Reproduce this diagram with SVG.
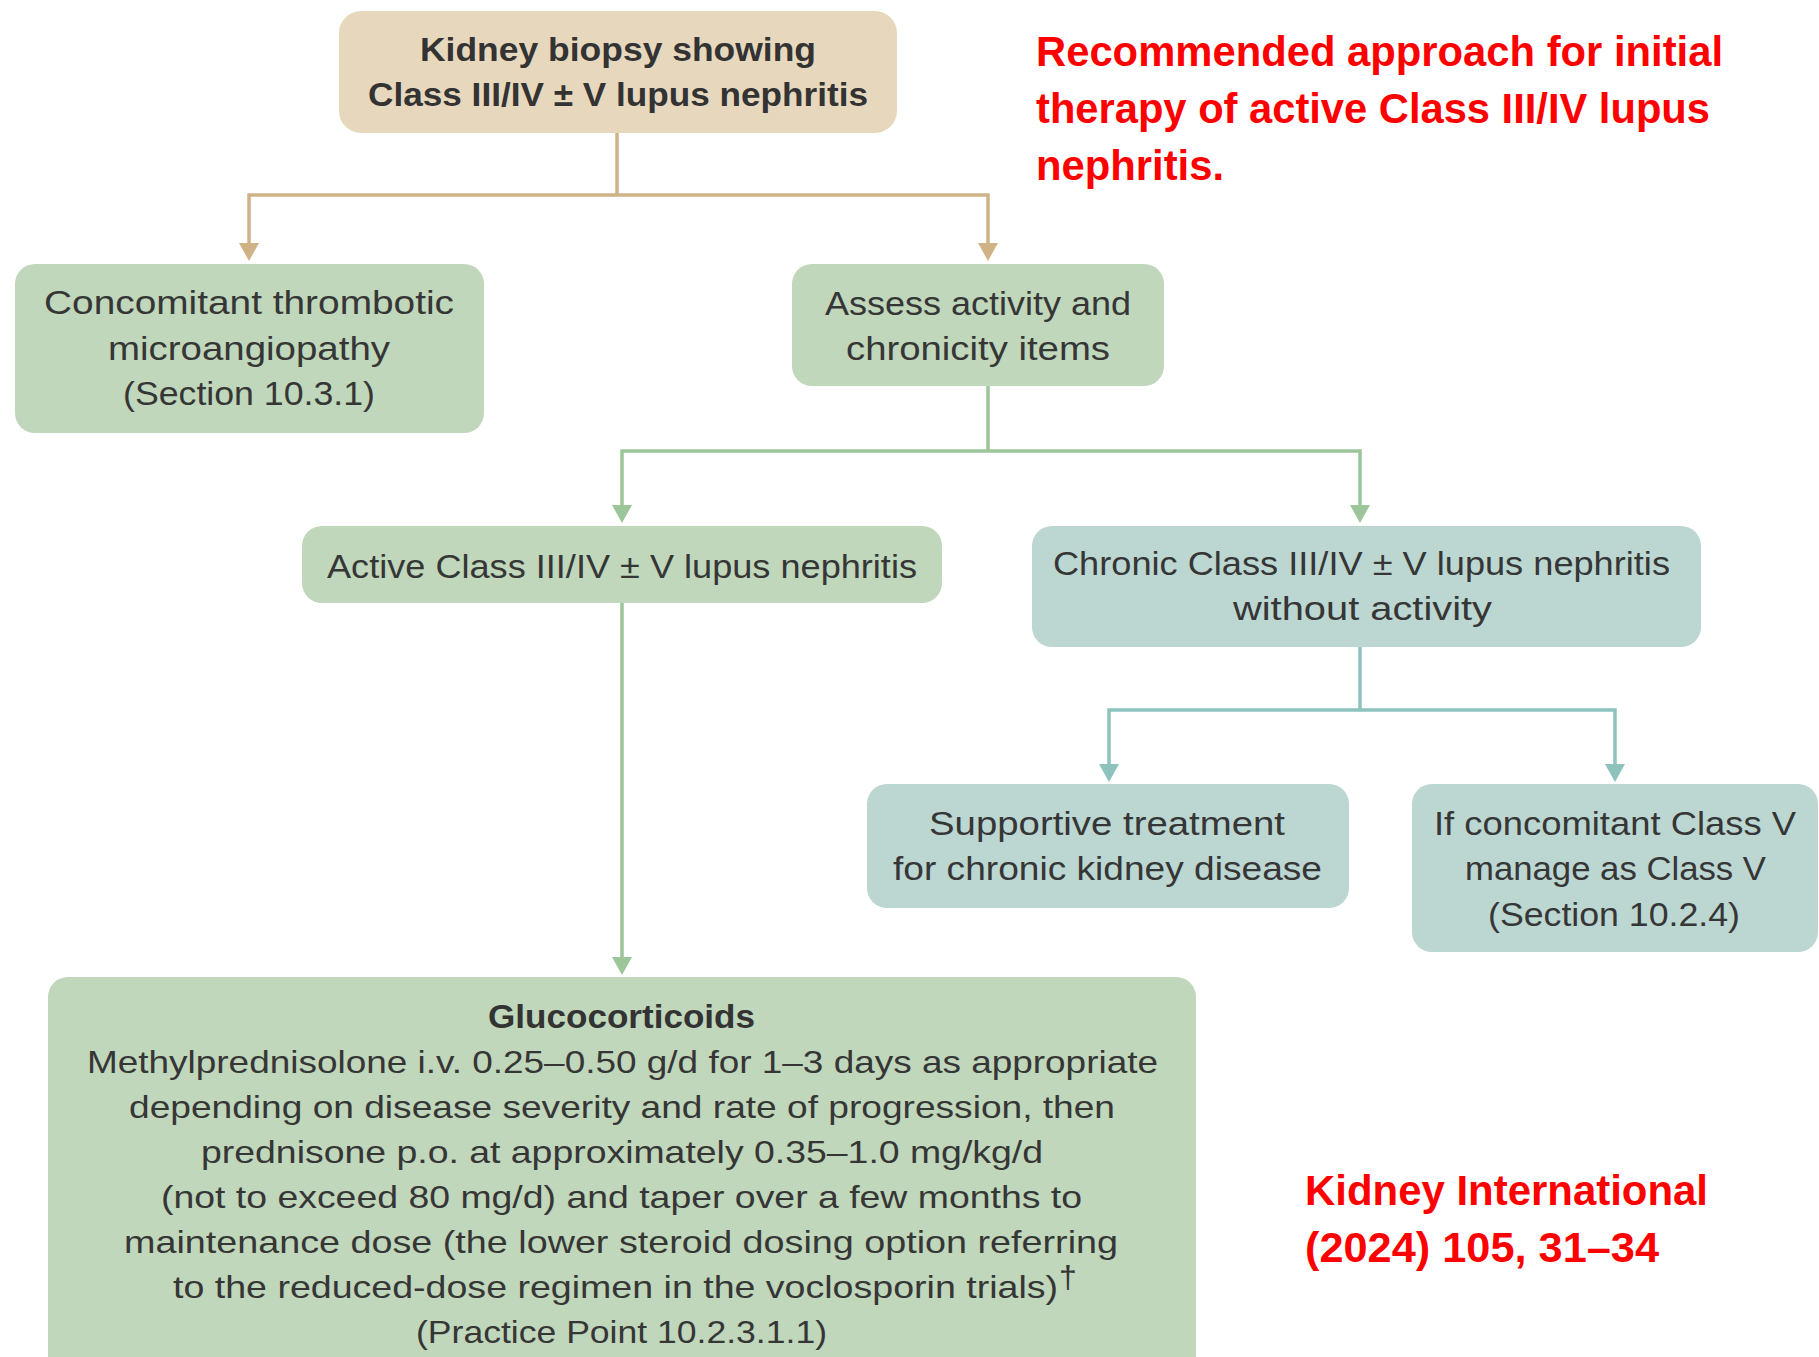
<svg xmlns="http://www.w3.org/2000/svg" width="1819" height="1357" viewBox="0 0 1819 1357">
<style>
.box-tan{fill:#e7d8bd}
.box-green{fill:#c0d7bb}
.box-teal{fill:#bcd6d2}
.t{font-family:"Liberation Sans",Arial,sans-serif;font-size:33px;fill:#363636}
.tb{font-family:"Liberation Sans",Arial,sans-serif;font-size:33px;fill:#333;font-weight:bold}
.tg{font-family:"Liberation Sans",Arial,sans-serif;font-size:32px;fill:#363636}
.red{font-family:"Liberation Sans",Arial,sans-serif;font-size:42px;fill:#ff0000;font-weight:bold}
.c-tan{fill:none;stroke:#cfb386;stroke-width:3.5}
.c-green{fill:none;stroke:#9cc59a;stroke-width:3.5}
.c-teal{fill:none;stroke:#8dc2bd;stroke-width:3.5}
</style>
<defs>
<marker id="ah-tan" markerUnits="userSpaceOnUse" markerWidth="22" markerHeight="22" refX="10" refY="10" orient="auto"><path d="M0,0 L18,10 L0,20 z" fill="#cfb386"/></marker>
<marker id="ah-green" markerUnits="userSpaceOnUse" markerWidth="22" markerHeight="22" refX="10" refY="10" orient="auto"><path d="M0,0 L18,10 L0,20 z" fill="#9cc59a"/></marker>
<marker id="ah-teal" markerUnits="userSpaceOnUse" markerWidth="22" markerHeight="22" refX="10" refY="10" orient="auto"><path d="M0,0 L18,10 L0,20 z" fill="#8dc2bd"/></marker>
</defs>
<rect width="1819" height="1357" fill="#ffffff"/>

<g id="connectors">
<path class="c-tan" d="M617,133 V195"/>
<path class="c-tan" d="M617,195 H249 V253" marker-end="url(#ah-tan)"/>
<path class="c-tan" d="M617,195 H988 V253" marker-end="url(#ah-tan)"/>
<path class="c-green" d="M988,386 V451"/>
<path class="c-green" d="M988,451 H622 V515" marker-end="url(#ah-green)"/>
<path class="c-green" d="M988,451 H1360 V515" marker-end="url(#ah-green)"/>
<path class="c-green" d="M622,603 V967" marker-end="url(#ah-green)"/>
<path class="c-teal" d="M1360,647 V710"/>
<path class="c-teal" d="M1360,710 H1109 V774" marker-end="url(#ah-teal)"/>
<path class="c-teal" d="M1360,710 H1615 V774" marker-end="url(#ah-teal)"/>
</g>

<g id="node-biopsy">
<rect class="box-tan" x="339" y="11" width="558" height="122" rx="22"/>
<text class="tb" x="420" y="61" textLength="396" lengthAdjust="spacingAndGlyphs">Kidney biopsy showing</text>
<text class="tb" x="368" y="106" textLength="500" lengthAdjust="spacingAndGlyphs">Class III/IV ± V lupus nephritis</text>
</g>

<g id="node-tma">
<rect class="box-green" x="15" y="264" width="469" height="169" rx="20"/>
<text class="t" x="44" y="314" textLength="410" lengthAdjust="spacingAndGlyphs">Concomitant thrombotic</text>
<text class="t" x="108" y="360" textLength="282" lengthAdjust="spacingAndGlyphs">microangiopathy</text>
<text class="t" x="123" y="405" textLength="252" lengthAdjust="spacingAndGlyphs">(Section 10.3.1)</text>
</g>

<g id="node-assess">
<rect class="box-green" x="792" y="264" width="372" height="122" rx="20"/>
<text class="t" x="825" y="315" textLength="306" lengthAdjust="spacingAndGlyphs">Assess activity and</text>
<text class="t" x="846" y="360" textLength="264" lengthAdjust="spacingAndGlyphs">chronicity items</text>
</g>

<g id="node-active">
<rect class="box-green" x="302" y="526" width="640" height="77" rx="20"/>
<text class="t" x="327" y="578" textLength="590" lengthAdjust="spacingAndGlyphs">Active Class III/IV ± V lupus nephritis</text>
</g>

<g id="node-chronic">
<rect class="box-teal" x="1032" y="526" width="669" height="121" rx="20"/>
<text class="t" x="1053" y="575" textLength="617" lengthAdjust="spacingAndGlyphs">Chronic Class III/IV ± V lupus nephritis</text>
<text class="t" x="1233" y="620" textLength="259" lengthAdjust="spacingAndGlyphs">without activity</text>
</g>

<g id="node-supportive">
<rect class="box-teal" x="867" y="784" width="482" height="124" rx="20"/>
<text class="t" x="929" y="835" textLength="356" lengthAdjust="spacingAndGlyphs">Supportive treatment</text>
<text class="t" x="893" y="880" textLength="429" lengthAdjust="spacingAndGlyphs">for chronic kidney disease</text>
</g>

<g id="node-classv">
<rect class="box-teal" x="1412" y="784" width="406" height="168" rx="20"/>
<text class="t" x="1434" y="835" textLength="362" lengthAdjust="spacingAndGlyphs">If concomitant Class V</text>
<text class="t" x="1465" y="880" textLength="301" lengthAdjust="spacingAndGlyphs">manage as Class V</text>
<text class="t" x="1488" y="926" textLength="252" lengthAdjust="spacingAndGlyphs">(Section 10.2.4)</text>
</g>

<g id="node-glucocorticoids">
<rect class="box-green" x="48" y="977" width="1148" height="420" rx="20"/>
<text class="tb" x="488" y="1028" textLength="267" lengthAdjust="spacingAndGlyphs">Glucocorticoids</text>
<text class="tg" x="87" y="1073" textLength="1071" lengthAdjust="spacingAndGlyphs">Methylprednisolone i.v. 0.25–0.50 g/d for 1–3 days as appropriate</text>
<text class="tg" x="129" y="1118" textLength="986" lengthAdjust="spacingAndGlyphs">depending on disease severity and rate of progression, then</text>
<text class="tg" x="201" y="1163" textLength="842" lengthAdjust="spacingAndGlyphs">prednisone p.o. at approximately 0.35–1.0 mg/kg/d</text>
<text class="tg" x="161" y="1208" textLength="921" lengthAdjust="spacingAndGlyphs">(not to exceed 80 mg/d) and taper over a few months to</text>
<text class="tg" x="124" y="1253" textLength="994" lengthAdjust="spacingAndGlyphs">maintenance dose (the lower steroid dosing option referring</text>
<text class="tg" x="173" y="1298" textLength="885" lengthAdjust="spacingAndGlyphs">to the reduced-dose regimen in the voclosporin trials)</text>
<text class="tg" x="1059" y="1288" font-size="17">†</text>
<text class="tg" x="416" y="1343" textLength="411" lengthAdjust="spacingAndGlyphs">(Practice Point 10.2.3.1.1)</text>
</g>

<g id="title">
<text class="red" x="1036" y="66" textLength="687" lengthAdjust="spacingAndGlyphs">Recommended approach for initial</text>
<text class="red" x="1036" y="123" textLength="674" lengthAdjust="spacingAndGlyphs">therapy of active Class III/IV lupus</text>
<text class="red" x="1036" y="180" textLength="188" lengthAdjust="spacingAndGlyphs">nephritis.</text>
</g>

<g id="citation">
<text class="red" x="1305" y="1205" textLength="403" lengthAdjust="spacingAndGlyphs">Kidney International</text>
<text class="red" x="1305" y="1262" textLength="354" lengthAdjust="spacingAndGlyphs">(2024) 105, 31–34</text>
</g>
</svg>
